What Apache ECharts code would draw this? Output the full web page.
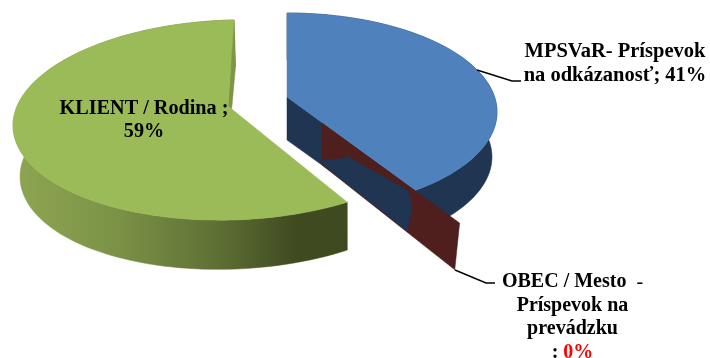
<!DOCTYPE html>
<html><head><meta charset="utf-8">
<script src="https://cdn.jsdelivr.net/npm/echarts@6/dist/echarts.min.js"></script>
<style>html,body{margin:0;background:#fff}#c{width:710px;height:358px}</style></head>
<body><div id="c"></div>
<script>
const sliceNames = ['MPSVaR- Príspevok\nna odkázanosť', 'OBEC / Mesto  -\nPríspevok na\nprevádzku', 'KLIENT / Rodina'];
const sharePct = [41, 0, 59];

// 3D projection of each pie piece: apex, ellipse (c, rx, ry, tilt), ray aspect and lean
const geo = [
 { top:{ax:287,ay:97,cx:287,cy:112,rx:210,ry:99,tilt:0,asp:2.167,lean:0},
   bot:{ax:287,ay:140,cx:287,cy:157,rx:205,ry:97,tilt:0,asp:2.2,lean:0} },
 { top:{ax:322,ay:123,cx:322,cy:139,rx:226,ry:106,tilt:0,asp:2.167,lean:0},
   bot:{ax:322,ay:165,cx:322,cy:180,rx:226,ry:111,tilt:0,asp:1.996,lean:0} },
 { top:{ax:228,ay:106,cx:232,cy:120,rx:219,ry:100,tilt:-0.025,asp:2.065,lean:-0.07},
   bot:{ax:228,ay:150,cx:236,cy:168,rx:216,ry:101,tilt:-0.04,asp:2.02,lean:-0.09} }
];
const colors = {
  top:['#4f81bd','#4f1f1e','#9bbb59'],
  side:['#1f3552','#4f1f1e',null],
  wall:['#1f3552','#4f1f1e','#7d9545']
};
const greenSide = new echarts.graphic.LinearGradient(0,0,1,0,[
  {offset:0,color:'#8ea652'},{offset:0.3,color:'#7c9347'},{offset:0.6,color:'#5f7135'},
  {offset:0.85,color:'#3f4a20'},{offset:1,color:'#3f4a20'}]);
// blue wall showing through the red wall, in wall coordinates (along edge, down depth)
const wallPatch = [[0.007,0.86],[0.146,0.5],[0.182,0.35],[0.628,0.1],[0.664,0.4],[0.64,0.98],[0.007,0.97]];

function onEllipse(g, thetaDeg){
  const t = thetaDeg*Math.PI/180, dx = Math.sin(t)*g.asp-Math.cos(t)*g.lean, dy = -Math.cos(t);
  const px = g.ax-g.cx, py = g.ay-g.cy-g.tilt*(g.ax-g.cx);
  const ex = dx/g.rx, ey = (dy-g.tilt*dx)/g.ry, fx = px/g.rx, fy = py/g.ry;
  const A = ex*ex+ey*ey, B = 2*(ex*fx+ey*fy), C = fx*fx+fy*fy-1;
  const s = (-B+Math.sqrt(B*B-4*A*C))/(2*A);
  return [g.ax+dx*s, g.ay+dy*s];
}
function arc(g,a,b){const p=[];const n=Math.max(1,Math.ceil(Math.abs(b-a)/2));
  for(let i=0;i<=n;i++)p.push(onEllipse(g,a+(b-a)*i/n));return p;}
const polyAA=(points,fill)=>({type:'polygon',shape:{points},style:{fill,stroke:fill,lineWidth:0.5}});

const cum=[]; sharePct.reduce((s,v,i)=>(cum[i]=s,s+v),0);

function renderSlice(params){
  const i=params.dataIndex, v=sharePct[i], a=cum[i]*3.6, b=(cum[i]+v)*3.6, g=geo[i], kids=[];
  const topArc=arc(g.top,a,b), botArc=arc(g.bot,a,b);
  const T0=[g.top.ax,g.top.ay], B0=[g.bot.ax,g.bot.ay];
  if(v>0){
    kids.push(polyAA(topArc.concat(botArc.slice().reverse()), i===2?greenSide:colors.side[i]));
  }
  if(i===0){ // cut wall at the end of the slice
    const e=topArc[topArc.length-1], f=botArc[botArc.length-1];
    kids.push(polyAA([T0,e,f,B0],colors.wall[i]));
  }
  if(i===1){
    const e=topArc[0], f=botArc[0];
    kids.push(polyAA([T0,e,f,B0],colors.wall[i]));
    const P=q=>{const tx=T0[0]+(e[0]-T0[0])*q[0],ty=T0[1]+(e[1]-T0[1])*q[0],
      bx=B0[0]+(f[0]-B0[0])*q[0],by=B0[1]+(f[1]-B0[1])*q[0];
      return [tx+(bx-tx)*q[1],ty+(by-ty)*q[1]];};
    kids.push(polyAA(wallPatch.map(P),colors.side[0]));
  }
  if(i===2){
    const s=topArc[topArc.length-1], f=botArc[botArc.length-1];
    kids.push(polyAA([s,T0,B0,f],colors.wall[i]));
  }
  if(v>0) kids.push(polyAA([T0].concat(topArc),colors.top[i]));
  return {type:'group',children:kids};
}

const font='"Liberation Serif","Times New Roman",serif';
const labelStyle={fontFamily:font,fontWeight:'bold',fill:'#000',align:'center',verticalAlign:'middle'};
const labelAnchors=[{x:615,y:63.5,lh:24,fs:20.5},{x:572.5,y:317.5,lh:23.5,fs:20},{x:144,y:120,lh:23,fs:20.2}];
const leaders=[[[477,70],[512,81],[521,81]],[[455,270],[486,283],[495,283]]];

function renderLabel(params){
  const i=params.dataIndex, an=labelAnchors[i], kids=[];
  const R={fontFamily:font,fontWeight:'bold',fontSize:an.fs,lineHeight:an.lh,fill:'#000'};
  const rich={b:R,r:Object.assign({},R,{fill:'#ff0000'}),t:Object.assign({},R,{fontWeight:'normal'})};
  const lines=sliceNames[i].split('\n').map(l=>{
    const m=l.match(/^(.*)(\s-)$/);
    return m?`{b|${m[1]}}{t|${m[2]}}`:`{b|${l}}`;
  });
  if(i===0) lines[lines.length-1]+=`{b|; ${sharePct[i]}%}`;
  if(i===1) lines.push(`{b|: }{r|${sharePct[i]}%}`);
  if(i===2){lines[0]+=`{b| ;}`;lines.push(`{b|${sharePct[i]}%}`);}
  kids.push({type:'text',x:an.x,y:an.y,style:Object.assign({},labelStyle,{fontSize:an.fs,text:lines.join('\n'),rich,lineHeight:an.lh})});
  if(leaders[i]) kids.push({type:'polyline',shape:{points:leaders[i]},style:{stroke:'#000',lineWidth:1.5,fill:null}});
  return {type:'group',children:kids};
}

const chart=echarts.init(document.getElementById('c'),null,{renderer:'canvas'});
chart.setOption({
  animation:false,
  backgroundColor:'#fff',
  series:[
    {type:'custom',coordinateSystem:'none',renderItem:renderSlice,data:sharePct.map((v,i)=>({name:sliceNames[i],value:[v]})),silent:true},
    {type:'custom',coordinateSystem:'none',renderItem:renderLabel,data:sharePct.map((v,i)=>({name:sliceNames[i],value:[v]})),silent:true,z:5}
  ]
});
</script></body></html>
